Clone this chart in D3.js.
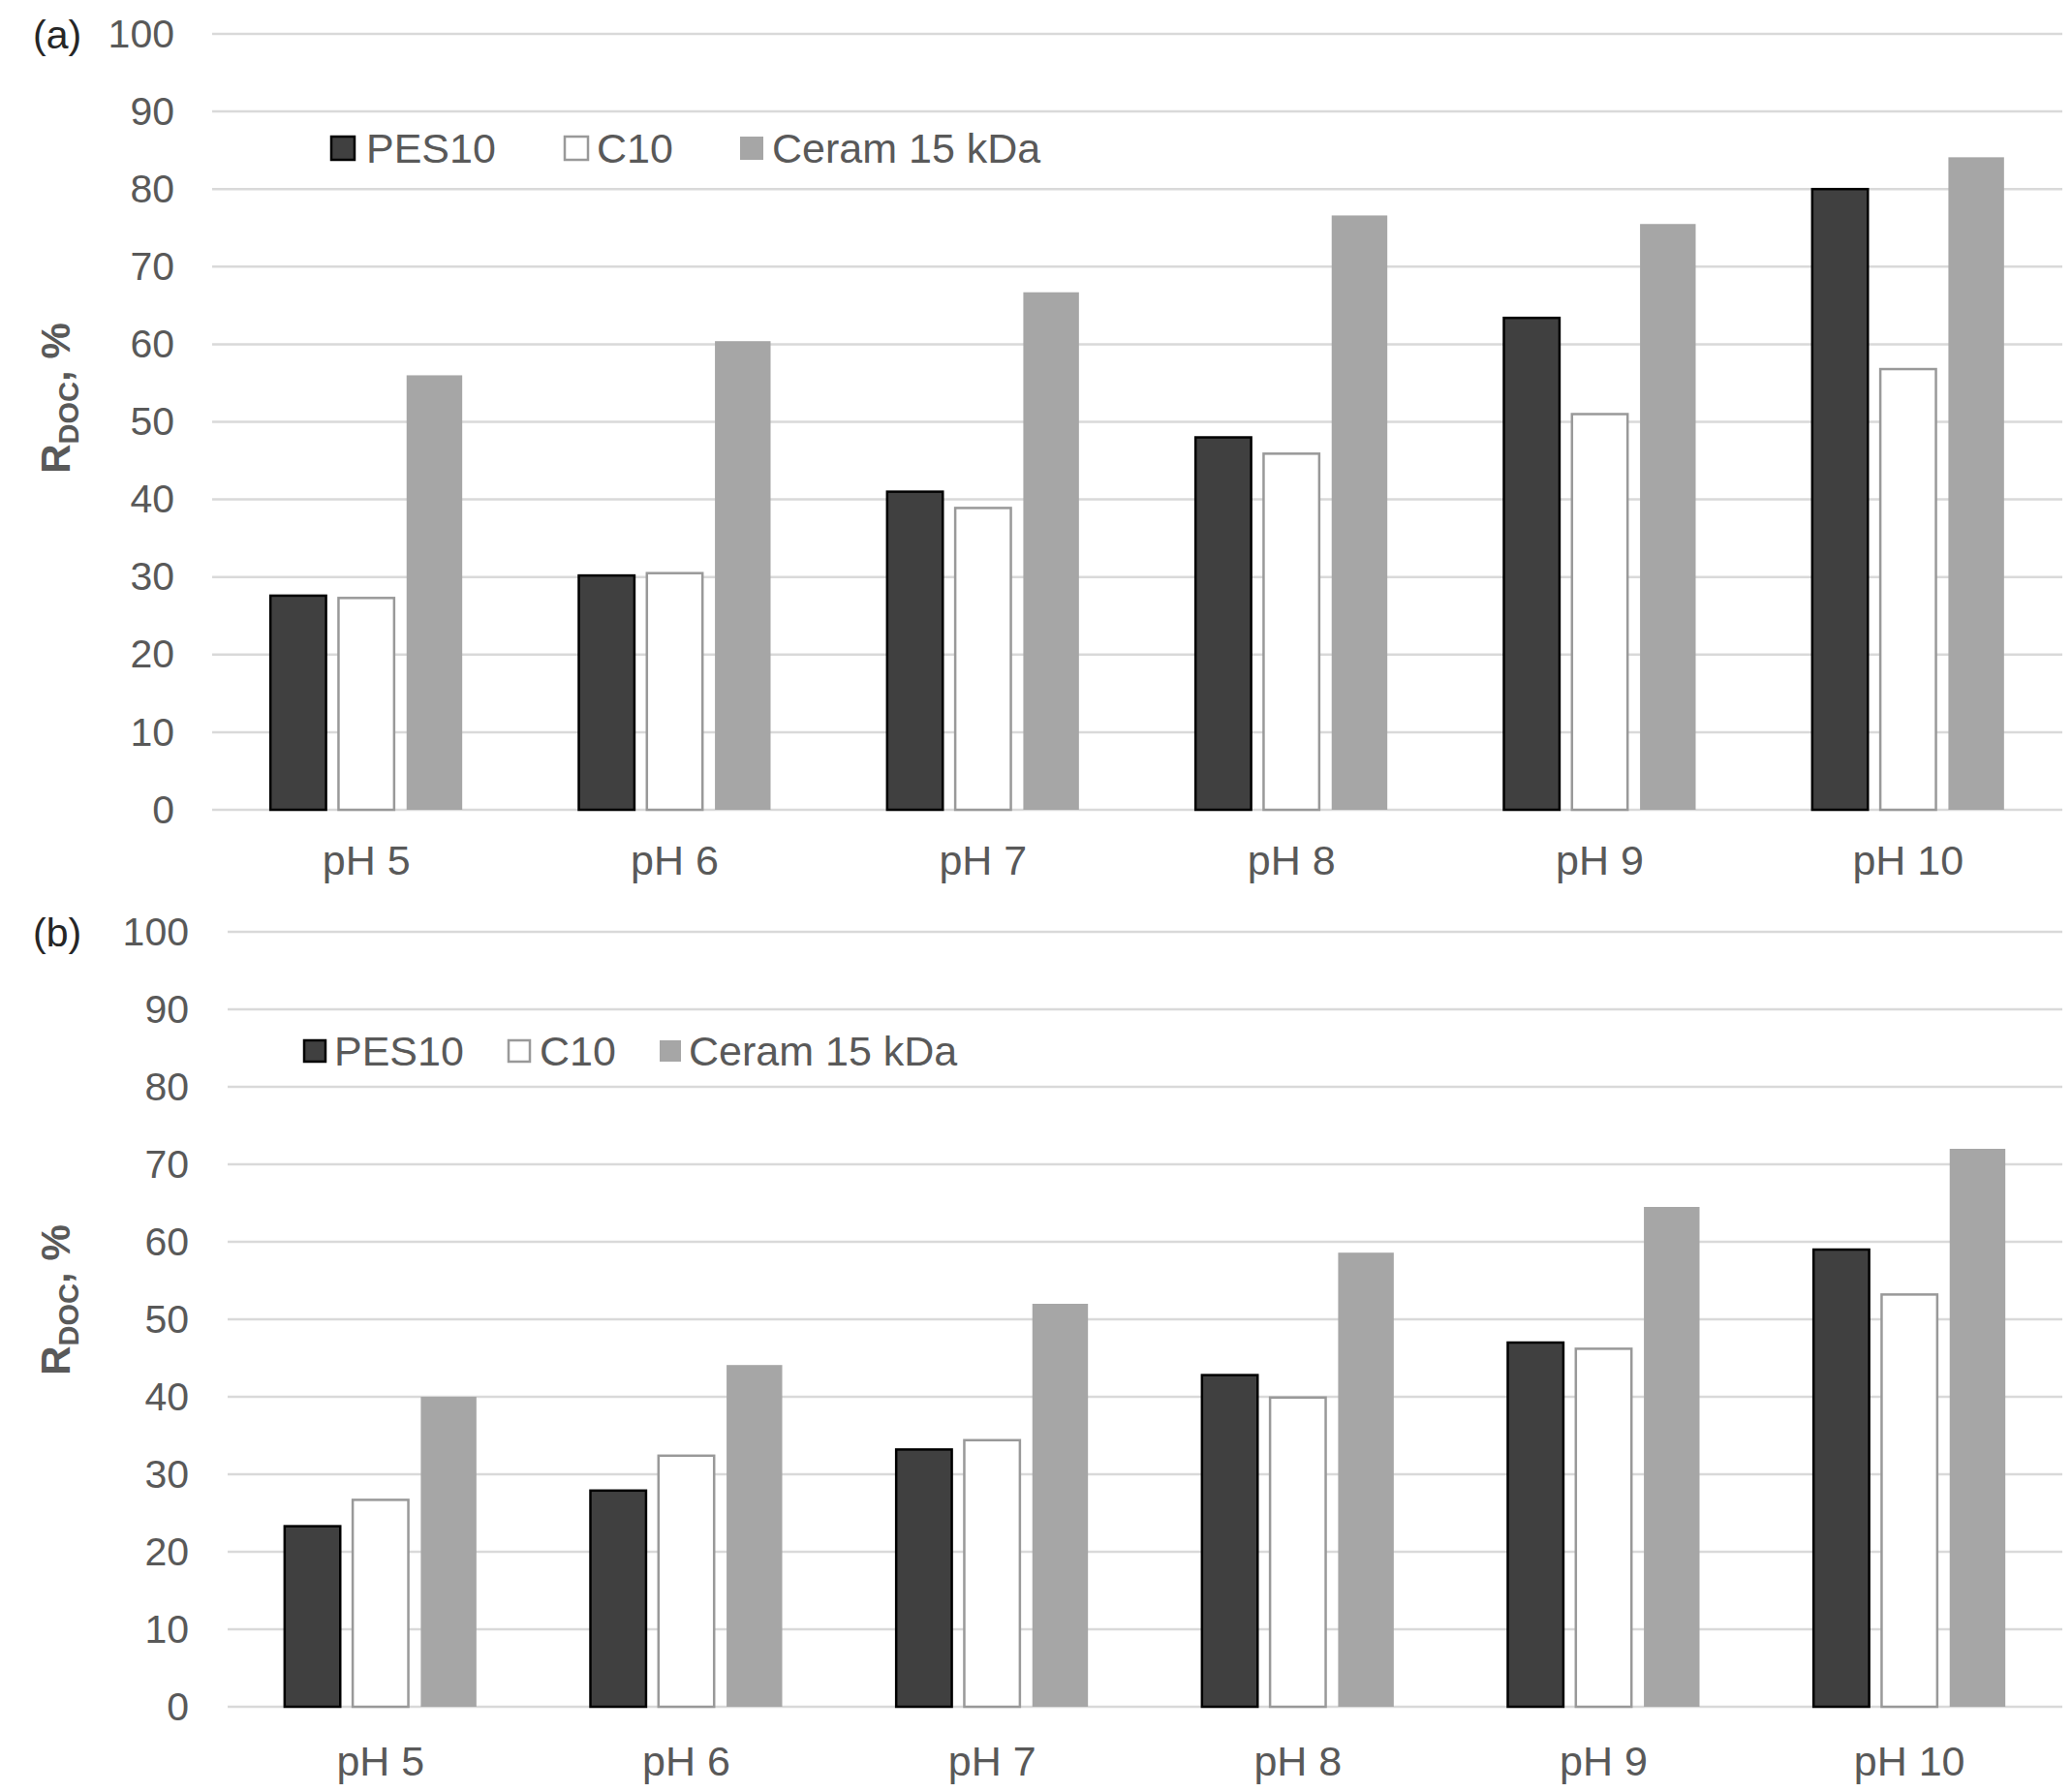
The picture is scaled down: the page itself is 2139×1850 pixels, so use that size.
<!DOCTYPE html>
<html><head><meta charset="utf-8">
<script src="https://cdn.jsdelivr.net/npm/d3@7"></script>
<style>body{margin:0;background:#fff}</style>
</head><body>
<svg id="c" width="2139" height="1850"></svg>
<script>
const categories = ["pH 5","pH 6","pH 7","pH 8","pH 9","pH 10"];
const seriesNames = ["PES10","C10","Ceram 15 kDa"];
const yTicks = [0,10,20,30,40,50,60,70,80,90,100];
const panelA_PES10 = [27.6,30.2,41.0,48.0,63.4,80.0];
const panelA_C10   = [27.3,30.5,38.9,45.9,51.0,56.8];
const panelA_Ceram = [56.0,60.4,66.7,76.6,75.5,84.1];
const panelB_PES10 = [23.3,27.9,33.2,42.8,47.0,59.0];
const panelB_C10   = [26.7,32.4,34.4,39.9,46.2,53.2];
const panelB_Ceram = [40.0,44.1,52.0,58.6,64.5,72.0];

const styles = [
  {fill:"#404040", stroke:"#000", sw:2.5},
  {fill:"#ffffff", stroke:"#999999", sw:2.5},
  {fill:"#a6a6a6", stroke:"none", sw:0}
];
const FONT = "'Liberation Sans', Arial, sans-serif";
const svg = d3.select("#c");

const panels = [
  {tag:"(a)", series:[panelA_PES10,panelA_C10,panelA_Ceram], left:219, right:2129, top:35, bottom:836,
   tickX:180, titleY:411, catY:902,
   legend:[{sq:342, tx:378},{sq:583, tx:616},{sq:764, tx:797}], legY:153, sq:24},
  {tag:"(b)", series:[panelB_PES10,panelB_C10,panelB_Ceram], left:235, right:2129, top:962, bottom:1762,
   tickX:195, titleY:1342, catY:1832,
   legend:[{sq:314, tx:345},{sq:525, tx:557},{sq:681, tx:711}], legY:1085, sq:22}
];

panels.forEach(p => {
  const g = svg.append("g");
  const y = d3.scaleLinear().domain([0,100]).range([p.bottom, p.top]);
  const x0 = d3.scaleBand().domain(categories).range([p.left, p.right]).padding(0);
  const groupW = 198;
  const x1 = d3.scaleBand().domain(seriesNames).range([0, groupW]).paddingInner(0.183).paddingOuter(0);

  // gridlines
  g.selectAll("line.grid").data(yTicks).enter().append("line")
    .attr("x1", p.left).attr("x2", p.right)
    .attr("y1", d => y(d)).attr("y2", d => y(d))
    .attr("stroke", "#d9d9d9").attr("stroke-width", 2.5);

  // y tick labels via axis
  const ya = g.append("g").attr("transform", `translate(${p.tickX},0)`)
    .call(d3.axisLeft(y).tickValues(yTicks).tickSize(0).tickPadding(0));
  ya.select(".domain").remove();
  ya.selectAll("text").attr("font-family", FONT).attr("font-size", 41).attr("fill", "#595959");

  // bars
  seriesNames.forEach((s, si) => {
    const st = styles[si];
    g.selectAll("rect.s"+si).data(p.series[si]).enter().append("rect")
      .attr("x", (d,i) => x0(categories[i]) + (x0.bandwidth()-groupW)/2 + x1(s))
      .attr("width", x1.bandwidth())
      .attr("y", d => y(d))
      .attr("height", d => y(0) - y(d))
      .attr("fill", st.fill)
      .attr("stroke", st.stroke)
      .attr("stroke-width", st.sw);
  });

  // x axis labels
  const xa = g.append("g").attr("transform", `translate(0,${p.catY - 30})`)
    .call(d3.axisBottom(x0).tickSize(0).tickPadding(0));
  xa.select(".domain").remove();
  xa.selectAll("text").attr("font-family", FONT).attr("font-size", 43).attr("fill", "#595959")
    .attr("dy", "0.71em");

  // panel tag
  g.append("text").attr("x", 34).attr("y", p.top + 15).text(p.tag)
    .attr("font-family", FONT).attr("font-size", 41).attr("fill", "#262626");

  // y title
  const t = g.append("text").attr("transform", `translate(72,${p.titleY}) rotate(-90)`)
    .attr("text-anchor", "middle").attr("font-family", FONT).attr("font-size", 42)
    .attr("font-weight", "bold").attr("fill", "#595959");
  t.append("tspan").text("R");
  t.append("tspan").text("DOC").attr("font-size", 29).attr("dy", 9);
  t.append("tspan").text(", %").attr("dy", -9);

  // legend
  seriesNames.forEach((s, si) => {
    const st = styles[si];
    const L = p.legend[si];
    g.append("rect").attr("x", L.sq).attr("y", p.legY - p.sq/2).attr("width", p.sq).attr("height", p.sq)
      .attr("fill", st.fill).attr("stroke", st.stroke).attr("stroke-width", st.sw);
    g.append("text").attr("x", L.tx).attr("y", p.legY + 15).text(s)
      .attr("font-family", FONT).attr("font-size", 43).attr("fill", "#595959");
  });
});
</script>
</body></html>
